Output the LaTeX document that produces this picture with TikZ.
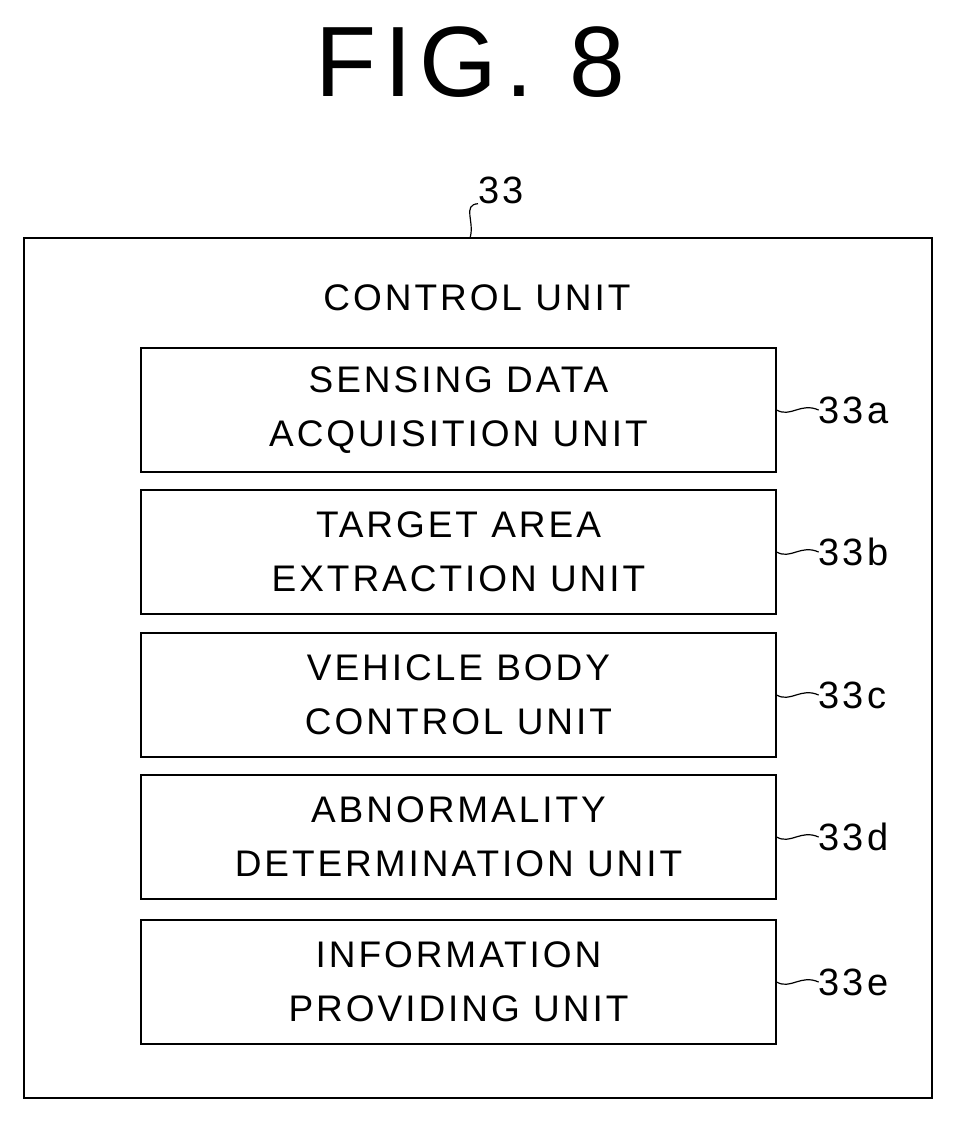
\documentclass[tikz,border=0pt]{standalone}
\usepackage{fontspec}
\setmainfont{Liberation Sans}[LetterSpace=8]
\usetikzlibrary{positioning}
\tikzset{
  unit/.style={draw, line width=1.2pt, minimum width=635pt, minimum height=124pt,
    align=center, font=\fontsize{37}{54}\selectfont},
  ref/.style={font=\fontsize{38}{40}\selectfont, anchor=west, inner sep=0pt}
}
\begin{document}
\begin{tikzpicture}[x=1pt,y=-1pt]
  \useasboundingbox (0,0) rectangle (957,1122);
  \node (fig) at (470,62) {\fontsize{100}{110}\selectfont FIG. 8};
  \draw [line width=1.2pt] (24,238) rectangle (932,1098);
  \node (ctl) at (477,298) {\fontsize{37}{40}\selectfont CONTROL UNIT};
  \node [unit] (a) at (458.5,410) {SENSING DATA\\ACQUISITION UNIT};
  \node [unit] (b) at (458.5,552) {TARGET AREA\\EXTRACTION UNIT};
  \node [unit] (c) at (458.5,695) {VEHICLE BODY\\CONTROL UNIT};
  \node [unit] (d) at (458.5,837) {ABNORMALITY\\DETERMINATION UNIT};
  \node [unit] (e) at (458.5,982) {INFORMATION\\PROVIDING UNIT};
  % reference numerals
  \node [ref] (n33) at (478,190) {33};
  \draw [line width=1.2pt] (n33.south west) .. controls (462,205) and (475,222) .. (470,238);
  \foreach \n/\s in {a/a,b/b,c/c,d/d,e/e} {
    \node [ref, right=42pt of \n.east] (l\n) {33\s};
    \draw [line width=1.2pt] (\n.east) .. controls ([xshift=14pt,yshift=-8pt]\n.east) and ([xshift=24pt,yshift=8pt]\n.east) .. (l\n.west);
  }
\end{tikzpicture}
\end{document}
